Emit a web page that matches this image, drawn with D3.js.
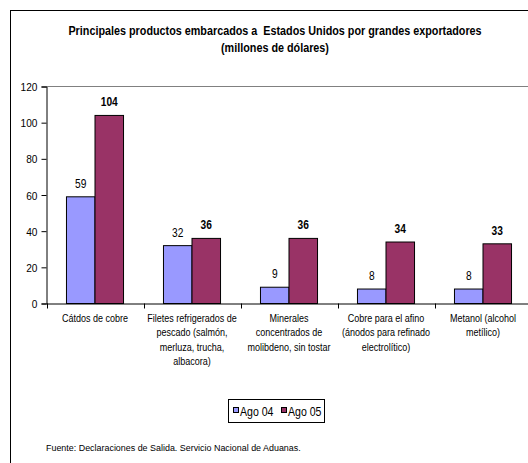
<!DOCTYPE html>
<html><head><meta charset="utf-8">
<script src="https://cdn.jsdelivr.net/npm/d3@7"></script>
<style>
html,body{margin:0;padding:0;background:#fff;}
text{font-family:"Liberation Sans",Arial,sans-serif;white-space:pre;}
</style></head><body>
<svg id="c" width="528" height="463"></svg>
<script>
const categories = [
  ["Cátdos de cobre"],
  ["Filetes refrigerados de","pescado (salmón,","merluza, trucha,","albacora)"],
  ["Minerales","concentrados de","molibdeno, sin tostar"],
  ["Cobre para el afino","(ánodos para refinado","electrolítico)"],
  ["Metanol (alcohol","metílico)"]
];
const seriesNames = ["Ago 04","Ago 05"];
const ago04 = [59,32,9,8,8];
const ago05 = [104,36,36,34,33];
const yTicks = [0,20,40,60,80,100,120];
const titleLines = ["Principales productos embarcados a  Estados Unidos por grandes exportadores","(millones de dólares)"];
const source = "Fuente: Declaraciones de Salida. Servicio Nacional de Aduanas.";
const colors = ["#9999FF","#993366"];

const svg = d3.select("#c");
function place(sel, fx, fy, sx){
  sel.attr("transform",(d,i)=>`translate(${fx(d,i)},${fy(d,i)}) scale(${sx},1)`);
}
svg.append("rect").attr("x",10.5).attr("y",10.5).attr("width",540).attr("height",470)
  .attr("fill","#fff").attr("stroke","#000").attr("stroke-width",1);

const tt = svg.append("g").selectAll("text").data(titleLines).join("text")
  .attr("text-anchor","middle").attr("font-weight","bold").attr("font-size","12px").text(d=>d);
place(tt, ()=>275, (d,i)=>35+i*17, 0.9);

const pLeft=46.5, pTop=86.5, pBottom=303.5;
const x = d3.scaleBand().domain(d3.range(categories.length)).range([pLeft,pLeft+97*5]).padding(0);
const y = d3.scaleLinear().domain([0,120]).range([pBottom,pTop]);

svg.append("line").attr("x1",pLeft).attr("x2",540).attr("y1",pTop).attr("y2",pTop).attr("stroke","#808080");

const yAxis = d3.axisLeft(y).tickValues(yTicks).tickSize(5).tickPadding(3);
const gy = svg.append("g").attr("transform",`translate(${pLeft},0)`).call(yAxis);
gy.selectAll("text").attr("font-size","11.5px").attr("fill","#000").attr("x",0).attr("dy","0.36em")
  .attr("transform","translate(-9,0) scale(0.88,1)");
gy.selectAll("line,path").attr("stroke","#000");

const xAxis = d3.axisBottom(x).tickValues([]).tickSizeOuter(0);
const gx = svg.append("g").attr("transform",`translate(0,${pBottom})`).call(xAxis);
gx.select("path").attr("stroke","#000");
gx.selectAll("line.tk").data(d3.range(categories.length+1)).join("line").attr("class","tk")
  .attr("x1",d=>Math.round(pLeft+d*x.step())+0.5).attr("x2",d=>Math.round(pLeft+d*x.step())+0.5)
  .attr("y1",0).attr("y2",5).attr("stroke","#000");

const inner = d3.scaleBand().domain([0,1]).range([0,x.bandwidth()]).paddingOuter(0.7).paddingInner(0);
const data = [ago04,ago05];
data.forEach((vals,s)=>{
  svg.append("g").selectAll("rect").data(vals).join("rect")
    .attr("x",(d,i)=>x(i)+inner(s)).attr("width",inner.bandwidth())
    .attr("y",d=>y(d)).attr("height",d=>pBottom-y(d))
    .attr("fill",colors[s]).attr("stroke","#000").attr("stroke-width",1);
  const lt = svg.append("g").selectAll("text").data(vals).join("text")
    .attr("text-anchor","middle").attr("font-size","12px")
    .attr("font-weight",s===1?"bold":"normal").text(d=>d);
  place(lt, (d,i)=>x(i)+inner(s)+inner.bandwidth()/2, d=>y(d)-9, 0.85);
});

const cat = svg.append("g");
categories.forEach((lines,i)=>{
  const ct = cat.append("g").selectAll("text").data(lines).join("text")
    .attr("text-anchor","middle").attr("font-size","11px").text(d=>d);
  place(ct, ()=>x(i)+x.bandwidth()/2, (d,j)=>322+j*14.3, 0.82);
});

const lg = svg.append("g");
lg.append("rect").attr("x",228.5).attr("y",399.5).attr("width",96).attr("height",23)
  .attr("fill","#fff").attr("stroke","#000");
const lx=[233,281];
seriesNames.forEach((n,i)=>{
  lg.append("rect").attr("x",lx[i]+0.5).attr("y",407.5).attr("width",5).attr("height",5)
    .attr("fill",colors[i]).attr("stroke","#000");
  lg.append("text").attr("font-size","12px").text(n)
    .attr("transform",`translate(${lx[i]+7},415.5) scale(0.88,1)`);
});

svg.append("text").attr("font-size","9.5px").text(source)
  .attr("transform","translate(46,451) scale(0.94,1)");
</script></body></html>
